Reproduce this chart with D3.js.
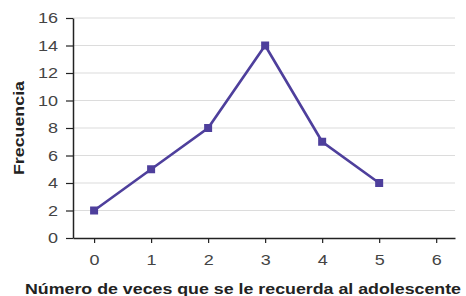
<!DOCTYPE html>
<html>
<head>
<meta charset="utf-8">
<script src="https://cdn.jsdelivr.net/npm/d3@7"></script>
<style>
  body { margin: 0; background: #fff; }
  svg text { font-family: "Liberation Sans", Arial, sans-serif; }
</style>
</head>
<body>
<div id="chart"></div>
<script>
// data
const veces = [0, 1, 2, 3, 4, 5];
const frecuencia = [2, 5, 8, 14, 7, 4];
const xTicks = [0, 1, 2, 3, 4, 5, 6];
const yTicks = [0, 2, 4, 6, 8, 10, 12, 14, 16];

const width = 466;
const height = 296;
const margin = { top: 18, right: 11, bottom: 58, left: 73 };
const stretch = 1.2; // the glyphs in the picture are a bit wide

const svg = d3.select("#chart").append("svg")
    .attr("width", width)
    .attr("height", height);

const x = d3.scaleLinear()
    .domain([-0.37, 6.33])
    .range([margin.left, width - margin.right]);

const y = d3.scaleLinear()
    .domain([0, 16])
    .range([height - margin.bottom, margin.top]);

// gridlines
svg.append("g")
    .selectAll("line")
    .data(yTicks.filter(d => d > 0))
    .join("line")
    .attr("x1", margin.left)
    .attr("x2", width - margin.right)
    .attr("y1", d => y(d))
    .attr("y2", d => y(d))
    .attr("stroke", "#dcdcdc")
    .attr("stroke-width", 1.2);

function wideText(sel) {
    sel.each(function () {
        const t = d3.select(this);
        const tx = +t.attr("x") || 0;
        t.attr("x", tx / stretch).attr("transform", `scale(${stretch},1)`);
    });
}

// y axis
const yAxis = svg.append("g")
    .attr("transform", `translate(${margin.left},0)`)
    .call(d3.axisLeft(y).tickValues(yTicks).tickFormat(d3.format("d")).tickSize(7).tickPadding(8).tickSizeOuter(0));
yAxis.select(".domain").attr("stroke", "#222").attr("stroke-width", 1.5);
yAxis.selectAll(".tick line").attr("stroke", "#222").attr("stroke-width", 1.2);
yAxis.selectAll("text").attr("fill", "#444").style("font-size", "15px").call(wideText);

// x axis
const xAxis = svg.append("g")
    .attr("transform", `translate(0,${height - margin.bottom})`)
    .call(d3.axisBottom(x).tickValues(xTicks).tickFormat(d3.format("d")).tickSize(5).tickPadding(11).tickSizeOuter(0));
xAxis.select(".domain").attr("stroke", "#222").attr("stroke-width", 1.5);
xAxis.selectAll(".tick line").attr("stroke", "#222").attr("stroke-width", 1.2);
xAxis.selectAll("text").attr("fill", "#444").style("font-size", "15px").call(wideText);

// line
const line = d3.line()
    .x((d, i) => x(veces[i]))
    .y(d => y(d));

svg.append("path")
    .datum(frecuencia)
    .attr("fill", "none")
    .attr("stroke", "#4e3f9c")
    .attr("stroke-width", 2.6)
    .attr("d", line);

// square markers
svg.append("g")
    .selectAll("rect")
    .data(frecuencia)
    .join("rect")
    .attr("x", (d, i) => x(veces[i]) - 4)
    .attr("y", d => y(d) - 4)
    .attr("width", 8)
    .attr("height", 8)
    .attr("fill", "#4e3f9c");

// axis titles
svg.append("text")
    .attr("transform", "translate(24,128) rotate(-90)")
    .attr("text-anchor", "middle")
    .attr("fill", "#222")
    .attr("textLength", 94)
    .attr("lengthAdjust", "spacingAndGlyphs")
    .style("font-size", "15px")
    .style("font-weight", "bold")
    .text("Frecuencia");

svg.append("text")
    .attr("x", 243)
    .attr("y", 294)
    .attr("text-anchor", "middle")
    .attr("fill", "#222")
    .attr("textLength", 436)
    .attr("lengthAdjust", "spacingAndGlyphs")
    .style("font-size", "15.5px")
    .style("font-weight", "bold")
    .text("Número de veces que se le recuerda al adolescente");
</script>
</body>
</html>
